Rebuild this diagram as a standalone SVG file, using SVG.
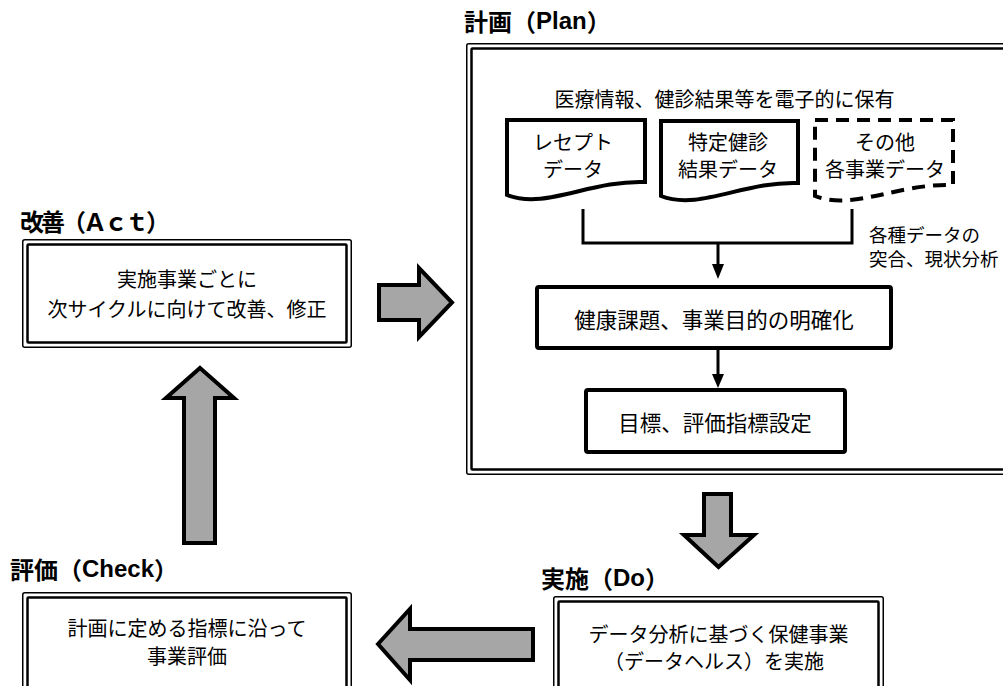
<svg xmlns="http://www.w3.org/2000/svg" width="1003" height="686" viewBox="0 0 1003 686">
<style>
text{font-family:"Noto Sans CJK JP","Noto Sans",sans-serif;fill:#000;dominant-baseline:central}
.t{font-size:20px;text-anchor:middle}
.tl{font-size:21.5px;text-anchor:middle}
.lab{font-size:18.5px}
.ttl{font-size:24px;font-weight:bold}
.lat{font-family:"Liberation Sans",Arial,sans-serif;font-size:24px}
.o{fill:#fff;stroke:#000;stroke-width:1.5}
.i{fill:none;stroke:#000;stroke-width:2.5}
.box{fill:#fff;stroke:#000;stroke-width:4}
.doc{fill:#fff;stroke:#000;stroke-width:4;stroke-linejoin:miter}
.dash{stroke-dasharray:13 8}
.big{fill:#a6a6a6;stroke:#000;stroke-width:4;stroke-linejoin:miter}
.ln{fill:none;stroke:#000;stroke-width:3}
.ah{fill:#000}
</style>
<g id="plan">
<rect class="o" x="466.75" y="43.75" width="560" height="430.5" rx="2"/>
<rect class="i" x="471.5" y="48.5" width="560" height="421" rx="1"/>
<text class="ttl" x="464" y="20">計画（<tspan class="lat">Plan</tspan>）</text>
<text class="t" x="724.5" y="98">医療情報、健診結果等を電子的に保有</text>
</g>
<g id="receipt">
<path class="doc" d="M507,120 H645 V182 C590,180 545,210 507,195 Z"/>
<text class="t" x="573" y="141">レセプト</text>
<text class="t" x="573" y="168">データ</text>
</g>
<g id="checkup">
<path class="doc" d="M661,121 H798 V183 C744,181 699,211 661,196 Z"/>
<text class="t" x="728" y="141">特定健診</text>
<text class="t" x="728" y="168">結果データ</text>
</g>
<g id="other">
<path class="doc dash" d="M815,120 H953 V185 C899,183 853,211 815,196 Z"/>
<text class="t" x="885" y="141">その他</text>
<text class="t" x="885" y="168">各事業データ</text>
</g>
<g id="issues">
<rect class="box" x="537" y="287" width="354" height="61" rx="2"/>
<text class="tl" x="714" y="318">健康課題、事業目的の明確化</text>
</g>
<g id="goals">
<rect class="box" x="586" y="390" width="259" height="62" rx="2"/>
<text class="tl" x="715" y="421">目標、評価指標設定</text>
</g>
<g id="match-label">
<text class="lab" x="869" y="234">各種データの</text>
<text class="lab" x="869" y="258">突合、現状分析</text>
</g>
<g id="act">
<text class="ttl" x="20" y="220" textLength="150" lengthAdjust="spacing">改善（Ａｃｔ）</text>
<rect class="o" x="22.75" y="239.75" width="328.5" height="107.5" rx="2"/>
<rect class="i" x="27.5" y="244.5" width="319" height="98" rx="1"/>
<text class="t" x="187" y="278">実施事業ごとに</text>
<text class="t" x="187" y="308">次サイクルに向けて改善、修正</text>
</g>
<g id="check">
<text class="ttl" x="10" y="568">評価（<tspan class="lat">Check</tspan>）</text>
<rect class="o" x="22.75" y="592.75" width="328.5" height="120" rx="2"/>
<rect class="i" x="27.5" y="597.5" width="319" height="120" rx="1"/>
<text class="t" x="187" y="627">計画に定める指標に沿って</text>
<text class="t" x="187" y="655">事業評価</text>
</g>
<g id="do">
<text class="ttl" x="541" y="577">実施（<tspan class="lat">Do</tspan>）</text>
<rect class="o" x="553.75" y="596.75" width="329.5" height="120" rx="2"/>
<rect class="i" x="558.5" y="601.5" width="320" height="120" rx="1"/>
<text class="t" x="718.5" y="633">データ分析に基づく保健事業</text>
<text class="t" x="714" y="660">（データヘルス）を実施</text>
</g>
<g id="connectors">
<path class="ln" d="M583,209 V243 H852 V209"/>
<path class="ln" d="M718,243 V266"/>
<polygon class="ah" points="712,264 724,264 718,279"/>
<path class="ln" d="M718,350 V376"/>
<polygon class="ah" points="712,374 724,374 718,388"/>
<path class="big" d="M379,285 H419 V268 L452,302.5 L419,337 V320 H379 Z"/>
<path class="big" d="M704,494 H731 V535 H754 L718.5,567 L684,535 H704 Z"/>
<path class="big" d="M378,644 L410,609 V629 H533 V660 H410 V680 Z"/>
<path class="big" d="M200,368 L234,398 H215 V543 H184 V398 H166 Z"/>
</g>
</svg>
